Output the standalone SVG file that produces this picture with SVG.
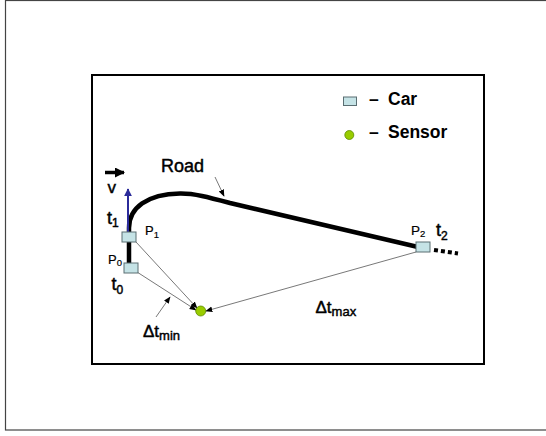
<svg xmlns="http://www.w3.org/2000/svg" width="546" height="436" viewBox="0 0 546 436">
<style>
text{font-family:"Liberation Sans",Arial,sans-serif;fill:#000;stroke:#000;stroke-width:0.45}
.b{font-weight:bold;stroke-width:0}
.p{stroke-width:0.2}
.car{fill:#c5e3e6;stroke:#5a6e72;stroke-width:1}
.thin{stroke:#555;stroke-width:0.8;fill:none}
</style>
<defs>
<marker id="ah" viewBox="0 0 10 10" refX="9" refY="5" markerWidth="7" markerHeight="7" orient="auto" markerUnits="userSpaceOnUse">
<path d="M0,1 L10,5 L0,9 z" fill="#000"/>
</marker>
<marker id="ahb" viewBox="0 0 10 10" refX="9" refY="5" markerWidth="8" markerHeight="8" orient="auto" markerUnits="userSpaceOnUse">
<path d="M0,0 L10,5 L0,10 z" fill="#2b2b9a"/>
</marker>
<marker id="ahk" viewBox="0 0 10 10" refX="9" refY="5" markerWidth="10" markerHeight="10" orient="auto" markerUnits="userSpaceOnUse">
<path d="M0,0 L10,5 L0,10 z" fill="#000"/>
</marker>
</defs>
<rect x="5.5" y="0.5" width="560" height="429.5" fill="#fff" stroke="#444" stroke-width="1.2"/>
<rect x="92" y="75" width="392" height="289" fill="#fff" stroke="#000" stroke-width="2"/>
<g id="road">
<path d="M129,268 V228 C129,208 147,194 180,193.5 C194,193.3 208,197 230,203 L418,247" fill="none" stroke="#000" stroke-width="4.5"/>
<line x1="434" y1="250" x2="458" y2="253.5" stroke="#000" stroke-width="4" stroke-dasharray="4,3"/>
<text x="161" y="172" font-size="18">Road</text>
</g>
<g id="connectors">
<line class="thin" x1="136" y1="242" x2="197" y2="308" marker-end="url(#ah)"/>
<line class="thin" x1="137" y1="272" x2="196" y2="310" marker-end="url(#ah)"/>
<line class="thin" x1="416" y1="252" x2="206" y2="311" marker-end="url(#ah)"/>
<line class="thin" x1="156" y1="317" x2="170" y2="297" marker-end="url(#ah)"/>
<line class="thin" x1="215" y1="177" x2="224" y2="196" marker-end="url(#ah)"/>
<line x1="128" y1="232" x2="128" y2="189" stroke="#2b2b9a" stroke-width="2" marker-end="url(#ahb)"/>
<line x1="105" y1="172.5" x2="124" y2="172.5" stroke="#000" stroke-width="3.5" marker-end="url(#ahk)"/>
</g>
<g id="p1">
<rect class="car" x="122" y="232" width="14" height="10"/>
<text x="145" y="235" class="p" font-size="13">P<tspan font-size="9.5" dy="2.5">1</tspan></text>
<text x="107" y="224" font-size="18">t<tspan font-size="12" dy="3">1</tspan></text>
</g>
<g id="p0">
<rect class="car" x="124" y="263" width="14" height="10"/>
<text x="108" y="263.5" class="p" font-size="13">P<tspan font-size="9.5" dy="2.5">0</tspan></text>
<text x="111.5" y="289.5" font-size="18">t<tspan font-size="12" dy="4">0</tspan></text>
</g>
<g id="p2">
<rect class="car" x="416" y="242" width="14" height="10"/>
<text x="411" y="234.5" class="p" font-size="13.5">P<tspan font-size="9.5" dy="2.5">2</tspan></text>
<text x="436" y="235.5" font-size="18">t<tspan font-size="12" dy="4">2</tspan></text>
</g>
<g id="sensor">
<circle cx="200.7" cy="311" r="5" fill="#99cc00" stroke="#5c8a00" stroke-width="0.8"/>
</g>
<g id="labels">
<text x="107.5" y="192.5" font-size="17">v</text>
<text x="143" y="336.5" font-size="17">Δt<tspan font-size="13" dy="3.5">min</tspan></text>
<text x="315.5" y="312.5" font-size="17">Δt<tspan font-size="13" dy="3.5">max</tspan></text>
</g>
<g id="legend">
<rect class="car" x="343.5" y="97" width="13" height="8.5"/>
<text x="369" y="105" class="b" font-size="17.5">–<tspan x="388">Car</tspan></text>
<circle cx="349.3" cy="135" r="4.5" fill="#99cc00" stroke="#5c8a00" stroke-width="0.8"/>
<text x="369" y="137.7" class="b" font-size="17.5">–<tspan x="388">Sensor</tspan></text>
</g>
</svg>
